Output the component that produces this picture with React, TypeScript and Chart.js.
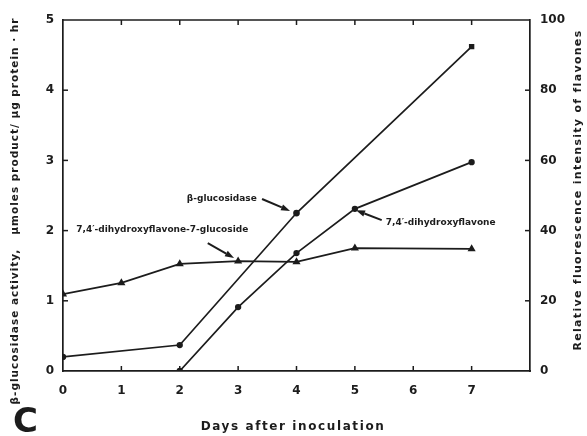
import React, { useEffect, useRef } from "react";
import { Chart, registerables } from "chart.js";

Chart.register(...registerables);

// ---- data ----
const xTickLabels = ["0", "1", "2", "3", "4", "5", "6", "7"];
const leftTickValues = [0, 1, 2, 3, 4, 5];
const rightTickValues = [0, 20, 40, 60, 80, 100];

const glucosideDays = [0, 1, 2, 3, 4, 5, 7];
const glucosideValues = [21.9, 25.1, 30.5, 31.3, 31.1, 35.0, 34.8]; // right axis

const flavoneDays = [2, 3, 4, 5, 7];
const flavoneValues = [0, 18.2, 33.6, 46.2, 59.5]; // right axis

const glucosidaseDays = [0, 2, 4, 7];
const glucosidaseValues = [0.2, 0.37, 2.25, 4.62]; // left axis

const annotationTexts = [
  "β-glucosidase",
  "7,4′-dihydroxyflavone-7-glucoside",
  "7,4′-dihydroxyflavone",
];
// text centre [day, left value], arrow from, arrow to
const annotationTextPos = [
  [2.72, 2.46],
  [1.7, 2.01],
  [6.47, 2.12],
];
const annotationArrowFrom = [
  [3.41, 2.45],
  [2.48, 1.82],
  [5.46, 2.15],
];
const annotationArrowTo = [
  [3.89, 2.28],
  [2.93, 1.61],
  [5.02, 2.29],
];

const leftTitle = "β-glucosidase activity,   μmoles product/ μg protein · hr";
const rightTitle = "Relative fluorescence intensity of flavones";
const xTitle = "Days after inoculation";
const panelLetter = "C";

const INK = "#1c1c1c";
const FONT = "'DejaVu Sans', sans-serif";

const toXY = (xs: number[], ys: number[]) => xs.map((x, i) => ({ x, y: ys[i] }));

const decorPlugin = {
  id: "decor",
  afterDraw(chart: any) {
    const { ctx, chartArea: a, scales } = chart;
    const sx = scales.x, sy = scales.y, sy1 = scales.y1;
    ctx.save();
    ctx.strokeStyle = INK;
    ctx.fillStyle = INK;
    ctx.lineWidth = 1.7;
    // top border
    ctx.beginPath();
    ctx.moveTo(a.left, a.top);
    ctx.lineTo(a.right, a.top);
    ctx.stroke();
    // inward ticks
    const tl = 5;
    ctx.lineWidth = 1.5;
    for (let d = 1; d <= 7; d++) {
      const px = sx.getPixelForValue(d);
      ctx.beginPath();
      ctx.moveTo(px, a.bottom);
      ctx.lineTo(px, a.bottom - tl);
      ctx.moveTo(px, a.top);
      ctx.lineTo(px, a.top + tl);
      ctx.stroke();
    }
    leftTickValues.slice(1, -1).forEach((v) => {
      const py = sy.getPixelForValue(v);
      ctx.beginPath();
      ctx.moveTo(a.left, py);
      ctx.lineTo(a.left + tl, py);
      ctx.stroke();
    });
    rightTickValues.slice(1, -1).forEach((v) => {
      const py = sy1.getPixelForValue(v);
      ctx.beginPath();
      ctx.moveTo(a.right, py);
      ctx.lineTo(a.right - tl, py);
      ctx.stroke();
    });

    // annotations
    ctx.font = `bold 9px ${FONT}`;
    ctx.textAlign = "center";
    ctx.textBaseline = "middle";
    annotationTexts.forEach((t, i) => {
      const tx = sx.getPixelForValue(annotationTextPos[i][0]);
      const ty = sy.getPixelForValue(annotationTextPos[i][1]);
      ctx.fillText(t, tx, ty);
      const x0 = sx.getPixelForValue(annotationArrowFrom[i][0]);
      const y0 = sy.getPixelForValue(annotationArrowFrom[i][1]);
      const x1 = sx.getPixelForValue(annotationArrowTo[i][0]);
      const y1 = sy.getPixelForValue(annotationArrowTo[i][1]);
      const ang = Math.atan2(y1 - y0, x1 - x0);
      const hl = 9, hw = 3.2;
      const bx = x1 - hl * Math.cos(ang), by = y1 - hl * Math.sin(ang);
      ctx.lineWidth = 2;
      ctx.beginPath();
      ctx.moveTo(x0, y0);
      ctx.lineTo(bx, by);
      ctx.stroke();
      ctx.beginPath();
      ctx.moveTo(x1, y1);
      ctx.lineTo(bx + hw * Math.sin(ang), by - hw * Math.cos(ang));
      ctx.lineTo(bx - hw * Math.sin(ang), by + hw * Math.cos(ang));
      ctx.closePath();
      ctx.fill();
    });

    // axis titles
    ctx.font = `bold 10.5px ${FONT}`;
    (ctx as any).letterSpacing = "1px";
    ctx.save();
    ctx.translate(15, 211);
    ctx.rotate(-Math.PI / 2);
    ctx.fillText(leftTitle, 0, 0);
    ctx.restore();

    ctx.font = `bold 11px ${FONT}`;
    (ctx as any).letterSpacing = "1.3px";
    ctx.save();
    ctx.translate(578, 190);
    ctx.rotate(-Math.PI / 2);
    ctx.fillText(rightTitle, 0, 0);
    ctx.restore();

    ctx.font = `bold 12px ${FONT}`;
    (ctx as any).letterSpacing = "1.6px";
    ctx.fillText(xTitle, 293, 427);

    (ctx as any).letterSpacing = "0px";
    ctx.font = `bold 34px ${FONT}`;
    ctx.textAlign = "left";
    ctx.fillText(panelLetter, 13, 423);
    ctx.restore();
  },
};

export default function App() {
  const ref = useRef<HTMLCanvasElement>(null);
  useEffect(() => {
    if (!ref.current) return;
    const tickFont = { family: FONT, size: 12, weight: "bold" as const };
    const chart = new Chart(ref.current, {
      type: "scatter",
      data: {
        datasets: [
          {
            label: "7,4′-dihydroxyflavone-7-glucoside",
            data: toXY(glucosideDays, glucosideValues),
            yAxisID: "y1",
            showLine: true,
            borderColor: INK,
            backgroundColor: INK,
            borderWidth: 1.7,
            pointStyle: "triangle",
            pointRadius: 3,
          },
          {
            label: "7,4′-dihydroxyflavone",
            data: toXY(flavoneDays, flavoneValues),
            yAxisID: "y1",
            showLine: true,
            borderColor: INK,
            backgroundColor: INK,
            borderWidth: 1.7,
            pointStyle: "circle",
            pointRadius: 2.3,
          },
          {
            label: "β-glucosidase",
            data: toXY(glucosidaseDays, glucosidaseValues),
            yAxisID: "y",
            showLine: true,
            borderColor: INK,
            backgroundColor: INK,
            borderWidth: 1.7,
            pointStyle: ["circle", "circle", "circle", "rect"],
            pointRadius: [2.3, 2.3, 2.5, 2.6],
          },
        ],
      },
      options: {
        responsive: false,
        animation: false,
        layout: { padding: { top: 20, left: 0, right: 0, bottom: 0 } },
        plugins: { legend: { display: false }, tooltip: { enabled: false } },
        scales: {
          x: {
            type: "linear",
            min: 0,
            max: 8,
            grid: { display: false, drawTicks: false },
            border: { display: true, color: INK, width: 1.7 },
            ticks: {
              stepSize: 1,
              padding: 13,
              color: INK,
              font: tickFont,
              callback: (v: any) => xTickLabels[v] ?? "",
            },
            afterFit: (s: any) => {
              s.height = 65;
            },
          },
          y: {
            position: "left",
            min: 0,
            max: 5,
            grid: { display: false, drawTicks: false },
            border: { display: true, color: INK, width: 1.7 },
            ticks: {
              stepSize: 1,
              padding: 9,
              color: INK,
              font: tickFont,
              callback: (v: any) => (leftTickValues.includes(v) ? String(v) : ""),
            },
            afterFit: (s: any) => {
              s.width = 63;
            },
          },
          y1: {
            position: "right",
            min: 0,
            max: 100,
            grid: { display: false, drawTicks: false },
            border: { display: true, color: INK, width: 1.7 },
            ticks: {
              stepSize: 20,
              padding: 10,
              color: INK,
              font: tickFont,
              callback: (v: any) => (rightTickValues.includes(v) ? String(v) : ""),
            },
            afterFit: (s: any) => {
              s.width = 57;
            },
          },
        },
      },
      plugins: [decorPlugin],
    });
    return () => chart.destroy();
  }, []);
  return (
    <div style={{ position: "fixed", left: 0, top: 0, width: 587, height: 436, background: "#fff" }}>
      <canvas ref={ref} width={587} height={436} style={{ width: 587, height: 436, display: "block" }} />
    </div>
  );
}
